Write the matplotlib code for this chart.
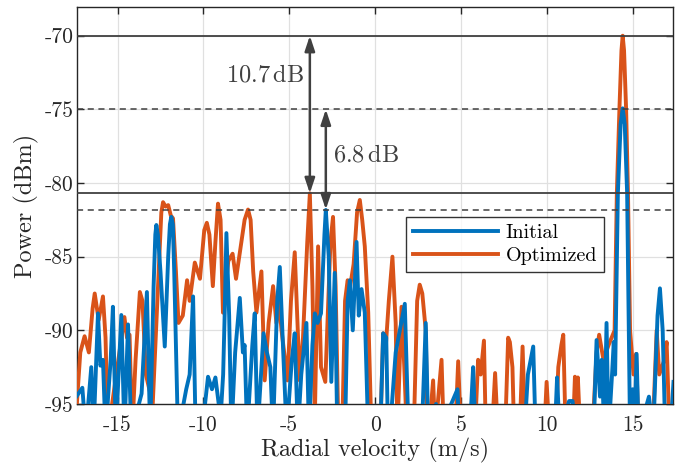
import matplotlib
matplotlib.use("Agg")
import matplotlib.pyplot as plt

plt.rcParams["font.family"] = ["cmr10", "DejaVu Serif"]
plt.rcParams["mathtext.fontset"] = "cm"
plt.rcParams["axes.unicode_minus"] = False
plt.rcParams["axes.formatter.use_mathtext"] = False

# Radial velocity (m/s) / power (dBm)
init_v = [-17.4, -17.05, -16.85, -16.53, -16.4, -16.14, -16.0, -15.85, -15.7, -15.4,
          -15.27, -15.1, -14.9, -14.78, -14.6, -14.39, -14.2, -13.6, -13.45, -13.29,
          -13.1, -12.9, -12.8, -12.74, -12.65, -12.5, -12.25, -12.05, -11.95, -11.87,
          -11.78, -11.7, -11.48, -11.0, -10.8, -10.6, -10.45, -10.0, -9.73, -9.5,
          -9.3, -9.0, -8.85, -8.76, -8.66, -8.5, -8.37, -8.15, -7.88, -7.7,
          -7.6, -7.45, -7.15, -7.01, -6.85, -6.5, -6.3, -6.1, -5.95, -5.7,
          -5.55, -5.35, -5.15, -4.85, -4.68, -4.5, -4.3, -4.0, -3.85, -3.65,
          -3.51, -3.35, -3.15, -2.95, -2.87, -2.7, -2.55, -2.35, -2.2, -1.75,
          -1.6, -1.47, -1.3, -1.08, -0.95, -0.79, -0.6, -0.4, 0.3, 0.47,
          0.65, 0.75, 0.95, 1.2, 1.44, 1.73, 1.95, 2.15, 2.35, 2.75,
          2.95, 3.1, 3.55, 3.7, 4.8, 4.9, 5.6, 5.71, 5.85, 6.95,
          7.15, 7.8, 8.0, 8.7, 8.9, 9.21, 9.35, 10.5, 10.6, 10.75,
          11.3, 11.5, 11.7, 12.75, 12.9, 13.1, 13.2, 13.35, 13.48, 13.6,
          13.8, 13.9, 13.98, 14.14, 14.3, 14.42, 14.54, 14.68, 14.85, 15.0,
          15.1, 15.23, 15.35, 15.95, 16.2, 16.45, 16.59, 16.75, 16.9, 17.2,
          17.38]
init_p = [-94.5, -93.9, -97, -92.5, -97, -88.85, -92.4, -92, -97, -92,
          -88.4, -97, -92, -88.96, -97, -89.6, -97, -94.3, -91, -87.4,
          -97, -87, -83.5, -82.85, -83.5, -86, -91.1, -85, -82.8, -82.3,
          -82.8, -86, -97, -94, -93, -87.7, -97, -96, -93.15, -94,
          -93.2, -96, -93, -88.85, -83.4, -89, -97, -91.5, -87.8, -91.5,
          -91, -97, -91, -88.85, -97, -90.2, -91.5, -92.5, -97, -88,
          -85.7, -91.5, -97, -92, -90.2, -97, -93, -89.5, -97, -91,
          -88.85, -89.5, -88.85, -83.5, -81.83, -85, -93.5, -86.1, -97, -97,
          -88, -86.6, -90, -84, -89, -87.2, -88.8, -97, -97, -90.2,
          -90.5, -97, -95.5, -91.5, -90, -88.2, -97, -95.2, -97, -96,
          -89.5, -97, -95, -97, -94, -97, -95, -92.5, -97, -95.5,
          -97, -95.5, -97, -97, -93, -91.1, -97, -96, -93.2, -97,
          -94.8, -94.8, -97, -96, -90.66, -94.5, -92, -97, -89.5, -97,
          -93, -90.8, -93, -80.7, -76, -74.93, -76, -80.7, -97, -94,
          -97, -91.6, -97, -94.5, -97, -89, -87.15, -90, -97, -97,
          -93.5]

opt_v = [-17.4, -17.17, -16.92, -16.67, -16.45, -16.33, -16.1, -15.85, -15.7, -15.56,
         -14.95, -14.6, -14.45, -14.3, -14.15, -13.95, -13.7, -13.55, -13.35, -12.95,
         -12.6, -12.45, -12.35, -12.2, -12.05, -11.9, -11.77, -11.6, -11.45, -11.2,
         -10.95, -10.8, -10.5, -10.2, -9.95, -9.8, -9.65, -9.45, -9.3, -9.15,
         -9.0, -8.86, -8.55, -8.3, -8.1, -7.95, -7.6, -7.4, -7.25, -7.1,
         -6.91, -6.62, -6.43, -6.2, -5.94, -5.75, -5.6, -5.45, -5.1, -4.9,
         -4.68, -4.5, -4.39, -4.2, -3.95, -3.8, -3.65, -3.51, -3.32, -3.15,
         -2.9, -2.6, -2.45, -2.3, -2.15, -1.9, -1.75, -1.6, -1.45, -1.25,
         -1.05, -0.89, -0.75, -0.6, -0.4, -0.21, 0.3, 0.47, 0.6, 0.8,
         1.01, 1.2, 1.3, 1.54, 1.7, 1.85, 2.25, 2.45, 2.6, 2.75,
         2.95, 3.05, 3.2, 3.38, 3.5, 3.87, 4.0, 4.7, 4.84, 5.0,
         5.85, 6.0, 6.15, 6.34, 6.45, 6.85, 6.99, 7.15, 7.6, 7.75,
         7.85, 8.0, 8.1, 8.45, 8.59, 8.75, 9.85, 9.99, 10.15, 10.55,
         10.67, 10.85, 10.96, 11.1, 11.55, 11.64, 11.75, 11.81, 11.95, 12.7,
         12.9, 13.05, 13.3, 13.6, 13.95, 14.08, 14.23, 14.35, 14.42, 14.5,
         14.62, 14.73, 14.85, 15.05, 15.2, 15.35, 16.2, 16.4, 16.55, 16.85,
         16.98, 17.15, 17.38]
opt_p = [-95.5, -91.5, -90.4, -91.5, -88.5, -87.5, -89.3, -87.7, -90.5, -97,
         -92, -89.1, -90.5, -90.3, -97, -92, -87.4, -88, -93, -95,
         -86, -82, -81.3, -81.6, -81.5, -82.2, -82.4, -86, -89.5, -89,
         -86.6, -88, -85.4, -86.5, -83.2, -82.7, -83.5, -87, -84, -81.4,
         -82.5, -88.8, -85.3, -84.8, -86.5, -85.3, -82.5, -81.8, -82.5, -86,
         -88.8, -86, -93.4, -89.5, -87, -89.5, -88, -90, -93.4, -88,
         -84.7, -90, -93.4, -90.5, -84, -80.7, -87, -96, -84.3, -92.5,
         -93.5, -84, -82.3, -87, -96, -96, -88, -86.6, -87, -85.5,
         -82, -81.15, -82.5, -84.3, -88.8, -97, -97, -90.2, -91.5, -88,
         -85, -89.5, -97, -88.4, -92.5, -97, -97, -88, -86.9, -87.5,
         -90, -97, -96, -93.4, -97, -92, -97, -96, -92.1, -97,
         -96, -92, -93, -90.7, -97, -96, -92.9, -97, -96, -90.5,
         -90.8, -92.5, -97, -96, -91.1, -97, -97, -93.5, -97, -96,
         -92.5, -91, -90.3, -97, -96, -93.15, -97, -93.2, -97, -96,
         -91.5, -90.3, -92, -91, -90, -80.7, -75, -71, -70, -71,
         -75, -80.7, -90, -93, -91.6, -97, -96, -90, -93, -92,
         -90.8, -97, -96]

ref_levels = [-70, -80.7]      # solid lines
ref_dashed = [-75, -81.8]      # dashed lines

fig = plt.figure(figsize=(6.89, 4.68), dpi=100)
ax = fig.add_axes([0.1113, 0.1368, 0.8662, 0.8476])

blue = "#0072BD"
orange = "#D95319"
ax.plot(opt_v, opt_p, color=orange, lw=2.8, label="Optimized", zorder=3)
ax.plot(init_v, init_p, color=blue, lw=2.8, label="Initial", zorder=4)

for lvl in ref_levels:
    ax.axhline(lvl, color="#404040", lw=1.3, zorder=5)
for lvl in ref_dashed:
    ax.axhline(lvl, color="#404040", lw=1.1, ls=(0, (4, 3)), zorder=5)

arrow = dict(arrowstyle="<|-|>,head_length=0.9,head_width=0.3", color="#404040",
             lw=1.8, shrinkA=0, shrinkB=0)
ax.annotate("", xy=(-3.8, -70), xytext=(-3.8, -80.7), arrowprops=arrow, zorder=6)
ax.annotate("", xy=(-2.87, -75), xytext=(-2.87, -81.8), arrowprops=arrow, zorder=6)
ax.text(-4.15, -72.7, r"$10.7\,\mathrm{dB}$", ha="right", va="center",
        fontsize=17.5, color="#404040")
ax.text(-2.48, -78.1, r"$6.8\,\mathrm{dB}$", ha="left", va="center",
        fontsize=17.5, color="#404040")

ax.set_xlim(-17.38, 17.38)
ax.set_ylim(-95, -68.07)
ax.set_xticks([-15, -10, -5, 0, 5, 10, 15])
ax.set_yticks([-95, -90, -85, -80, -75, -70])
ax.tick_params(direction="in", length=5, width=1, top=True, right=True,
               labelsize=15.5, colors="#262626")
ax.tick_params(axis="x", pad=8)
ax.tick_params(axis="y", pad=2)
for s in ax.spines.values():
    s.set_color("#262626")
    s.set_linewidth(1.0)
ax.grid(True, color="#e0e0e0", lw=0.9)
ax.set_axisbelow(True)

ax.set_xlabel("Radial velocity (m/s)", fontsize=17.5, color="#262626", labelpad=2)
ax.set_ylabel("Power (dBm)", fontsize=17.5, color="#262626", labelpad=4)

h, l = ax.get_legend_handles_labels()
leg = ax.legend(h[::-1], l[::-1], loc="upper left", bbox_to_anchor=(0.5518, 0.4714),
                borderaxespad=0, fontsize=14.5, frameon=True, fancybox=False,
                handlelength=4.2, borderpad=0.35, labelspacing=0.25, handletextpad=0.4)
leg.get_frame().set_edgecolor("black")
leg.get_frame().set_linewidth(1.0)
leg.set_zorder(7)

fig.savefig("out.png", dpi=100)
